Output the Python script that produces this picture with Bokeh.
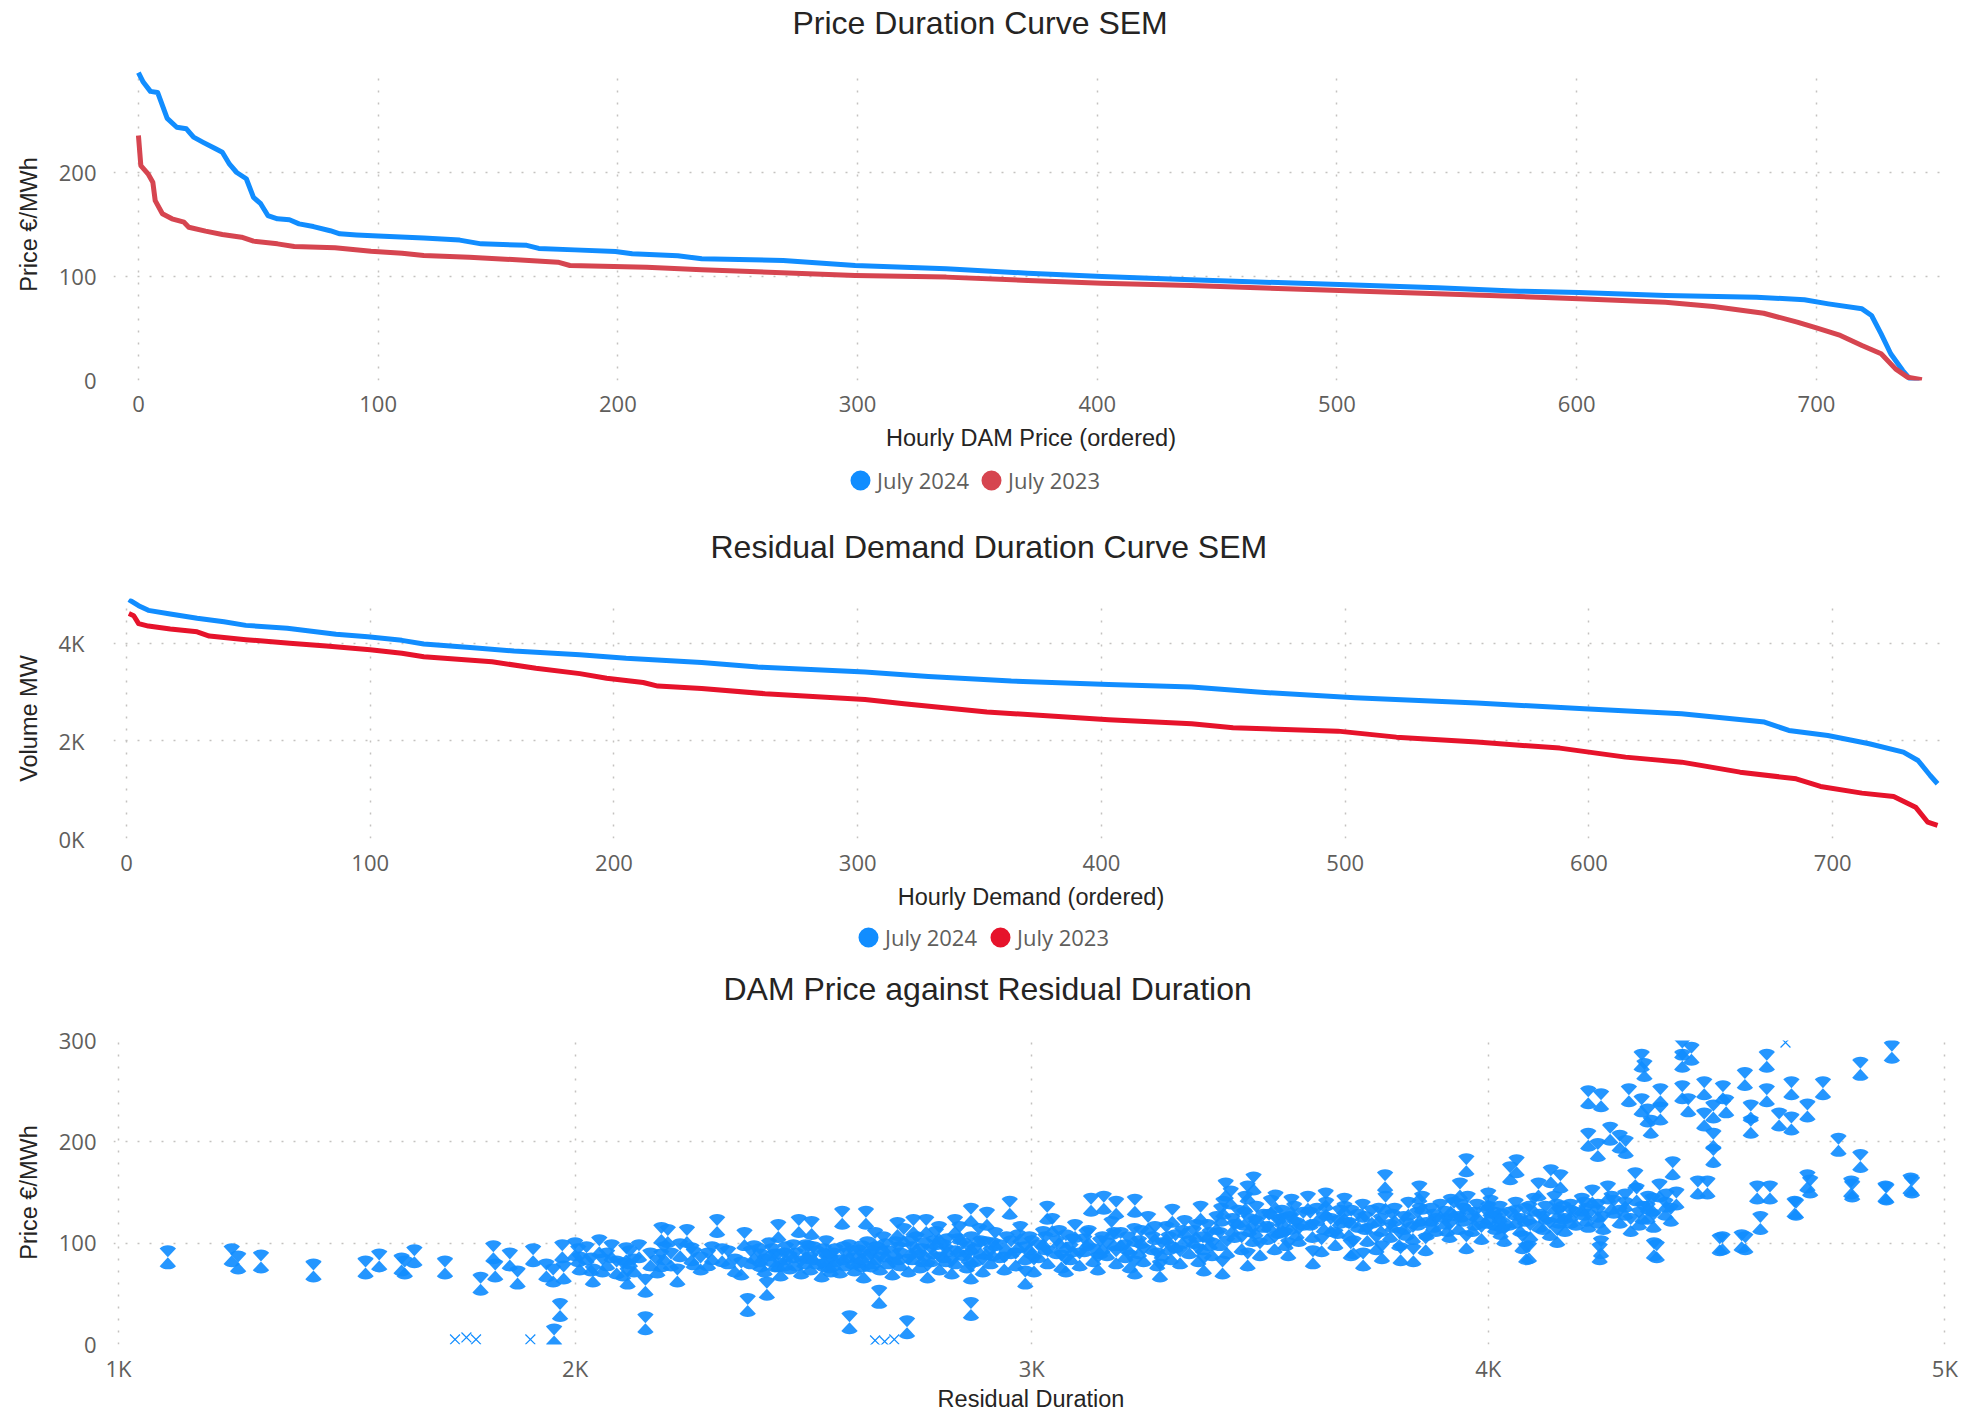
from bokeh.plotting import figure
from bokeh.models import Range1d, Legend, LegendItem, Title, ColumnDataSource, Grid
from bokeh.layouts import column
from bokeh.embed import file_html
from bokeh.resources import INLINE

# ---------------- data ----------------
# Chart 1: Price duration curve (hour rank, EUR/MWh)
price_hours_2024 = [0, 2, 5, 8, 12, 16, 20, 23, 27, 32, 35, 38, 41, 45, 48, 51, 54, 58, 63, 67,
                    73, 80, 84, 91, 100, 119, 134, 143, 162, 167, 182, 199, 206, 225, 235, 269, 299, 337, 371, 402,
                    439, 501, 542, 576, 601, 637, 675, 695, 705, 719, 723, 727, 731, 736, 739, 743]
price_2024 = [296, 287, 278, 277, 252, 243.5, 242, 234, 229, 223, 219.5, 208, 200, 194, 176, 170, 158.6, 155.5, 154.5, 150.6,
              148, 144, 141, 140, 139, 137, 135, 131.4, 130, 127, 125.6, 124, 121.8, 120, 117, 115.4, 110.6, 107.4, 103.2, 100,
              96.8, 92.3, 89.1, 85.9, 84.6, 81.7, 80.1, 77.6, 73.7, 68.9, 62.5, 44.9, 25.7, 9.6, 1.6, 0]
price_hours_2023 = [0, 1, 4, 6, 7, 10, 14, 19, 21, 28, 35, 43, 48, 58, 65, 82, 97, 110, 119, 138,
                    156, 175, 180, 212, 235, 299, 337, 371, 402, 439, 501, 542, 576, 601, 637, 657, 678, 692, 700, 710,
                    719, 727, 733, 738, 744]
price_2023 = [235.6, 206.7, 198.7, 190.7, 173, 160.3, 155.5, 152.2, 147.4, 143.6, 140.4, 137.8, 134, 131.4, 128.8, 127.6, 124.3, 122.4, 120.2, 118.6,
              116.3, 113.8, 110.6, 109, 106.4, 101, 99.4, 96.2, 93.6, 91.3, 86.5, 83.3, 80.8, 78.5, 75.3, 71.2, 64.7, 56.1, 50.5, 43.3,
              33.7, 25.7, 11.2, 3.2, 0.7]

# Chart 2: Residual demand duration curve (hour rank, MW)
demand_hours_2024 = [1, 5, 9, 18, 29, 40, 49, 66, 86, 99, 113, 122, 141, 159, 186, 205, 236, 259, 303, 329,
                     363, 403, 437, 464, 504, 554, 598, 638, 672, 682, 698, 715, 729, 735, 740, 743]
demand_2024 = [4897, 4772, 4677, 4604, 4515, 4443, 4369, 4310, 4187, 4136, 4062, 3988, 3915, 3842, 3768, 3694, 3608, 3514, 3412, 3323,
               3227, 3159, 3104, 3001, 2886, 2776, 2660, 2557, 2386, 2215, 2113, 1942, 1770, 1600, 1292, 1122]
demand_hours_2023 = [1, 3, 5, 9, 18, 29, 34, 49, 67, 82, 100, 113, 122, 150, 168, 186, 197, 212, 218, 236,
                     262, 303, 319, 353, 376, 403, 437, 454, 497, 521, 554, 588, 615, 638, 662, 685, 695, 712, 725, 734,
                     739, 743]
demand_2023 = [4611, 4566, 4406, 4355, 4295, 4238, 4150, 4076, 4002, 3945, 3871, 3797, 3725, 3623, 3489, 3380, 3284, 3197, 3124, 3074,
               2968, 2851, 2763, 2591, 2523, 2435, 2353, 2271, 2201, 2078, 1976, 1853, 1668, 1565, 1360, 1224, 1067, 930, 862, 642,
               334, 267]

# Chart 3: DAM price against residual demand (MW, EUR/MWh)
pts_low = [(1108, 86), (1248, 88), (1262, 81), (1312, 82), (1427, 73), (1541, 76), (1571, 83), (1620, 79), (1627, 76),
           (1648, 87), (1715, 76), (1793, 60), (1821, 91), (1825, 73), (1857, 84), (1874, 66), (1908, 88), (1937, 73),
           (1952, 68), (1975, 71), (1972, 92), (1967, 34), (1954, 9)]
pts_2000 = [(2000, 94), (2007, 88), (2035, 79), (2039, 68), (2053, 97), (2070, 84), (2091, 76), (2112, 89), (2115, 66),
            (2129, 78), (2140, 92), (2154, 58), (2154, 21), (2189, 109), (2203, 107), (2189, 83), (2210, 84), (2224, 68),
            (2245, 107), (2255, 89), (2291, 84), (2311, 117), (2322, 88), (2371, 104), (2364, 75), (2378, 39), (2392, 91),
            (2406, 83), (2420, 55), (2010, 80), (2025, 90), (2060, 78), (2080, 92), (2105, 74), (2120, 86), (2165, 84),
            (2180, 77), (2195, 90), (2230, 93), (2260, 85), (2275, 80), (2300, 90), (2335, 86), (2350, 78), (2385, 86)]
pts_2400 = [(2445, 112), (2445, 83), (2483, 84), (2490, 117), (2518, 115), (2511, 91), (2546, 83), (2560, 78), (2585, 125),
            (2601, 22), (2629, 83), (2637, 125), (2657, 104), (2666, 47), (2727, 17), (2405, 88), (2415, 78), (2425, 94),
            (2438, 83), (2450, 74), (2462, 90), (2470, 81), (2495, 76), (2505, 92), (2515, 80), (2528, 86), (2540, 73),
            (2550, 96), (2558, 82), (2570, 88), (2580, 77), (2592, 84), (2600, 92), (2612, 79), (2620, 87), (2632, 72),
            (2640, 95), (2648, 83)]
pts_2650 = [(2706, 114), (2741, 117), (2769, 117), (2797, 110), (2832, 117), (2867, 128), (2867, 35), (2867, 71), (2902, 124),
            (2660, 90), (2668, 80), (2675, 100), (2685, 86), (2695, 75), (2702, 95), (2712, 84), (2720, 108), (2730, 78),
            (2738, 90), (2748, 100), (2755, 82), (2765, 94), (2772, 72), (2780, 88), (2790, 105), (2798, 80), (2808, 92),
            (2815, 98), (2825, 76), (2833, 86), (2842, 110), (2850, 94), (2858, 82), (2868, 100), (2875, 88), (2885, 108),
            (2893, 78), (2900, 95), (2910, 86), (2920, 104), (2930, 92), (2940, 80)]
pts_2950 = [(2952, 135), (2986, 66), (3034, 130), (3075, 78), (3130, 138), (3158, 140), (3185, 135), (3226, 137), (3226, 76),
            (3281, 73), (3308, 127), (3370, 130), (3377, 79), (3418, 76), (2955, 96), (2965, 84), (2975, 110), (2985, 90),
            (2995, 100), (3005, 78), (3015, 92), (3025, 105), (3035, 86), (3045, 118), (3055, 96), (3065, 82), (3075, 102),
            (3085, 90), (3095, 112), (3105, 84), (3115, 98), (3125, 106), (3135, 88), (3145, 80), (3155, 100), (3165, 94),
            (3175, 115), (3185, 86), (3195, 104), (3205, 92), (3215, 82), (3225, 108), (3235, 96), (3245, 88), (3255, 120),
            (3265, 100), (3275, 84), (3285, 94), (3295, 110), (3305, 90), (3315, 102), (3325, 86), (3335, 116), (3345, 96),
            (3355, 106), (3365, 88), (3375, 100), (3385, 112), (3395, 94)]
pts_3400 = [(3425, 153), (3486, 159), (3473, 150), (3473, 84), (3534, 141), (3541, 117), (3405, 120), (3412, 104),
            (3420, 135), (3428, 96), (3436, 145), (3444, 112), (3452, 126), (3460, 100), (3468, 140), (3476, 118),
            (3484, 108), (3492, 130), (3500, 94), (3508, 122), (3516, 110), (3524, 136), (3532, 100), (3540, 116),
            (3548, 126), (3556, 104)]
pts_3560 = [(3562, 94), (3569, 137), (3616, 86), (3644, 143), (3685, 130), (3699, 94), (3726, 84), (3774, 161), (3767, 91),
            (3808, 89), (3836, 88), (3849, 150), (3863, 99), (3565, 120), (3575, 130), (3585, 108), (3595, 124), (3605, 140),
            (3615, 112), (3625, 128), (3635, 98), (3645, 134), (3655, 118), (3665, 104), (3675, 126), (3685, 138),
            (3695, 114), (3705, 96), (3715, 122), (3725, 132), (3735, 108), (3745, 126), (3755, 100), (3765, 118),
            (3775, 140), (3785, 112), (3795, 128), (3805, 104), (3815, 120), (3825, 134), (3835, 110), (3845, 124),
            (3855, 140), (3865, 114), (3875, 128), (3885, 118), (3895, 132)]
pts_3900 = [(3918, 137), (3938, 153), (3952, 177), (3952, 101), (4000, 143), (4014, 124), (4027, 115), (4048, 169),
            (4062, 176), (4075, 101), (4089, 91), (4110, 153), (4137, 166), (4158, 161), (4151, 107), (4164, 130), (4083, 90),
            (3905, 125), (3915, 112), (3925, 134), (3935, 120), (3945, 128), (3955, 140), (3965, 118), (3975, 132),
            (3985, 110), (3995, 126), (4005, 136), (4015, 120), (4025, 130), (4035, 108), (4045, 124), (4060, 134),
            (4070, 118), (4080, 128), (4092, 112), (4100, 138), (4112, 122), (4125, 130), (4135, 114), (4145, 140),
            (4155, 126), (4168, 118), (4180, 132), (4192, 124)]
pts_4200 = [(4219, 244), (4247, 241), (4219, 202), (4240, 192), (4219, 122), (4247, 96), (4267, 208), (4288, 200), (4301, 195),
            (4308, 246), (4336, 280), (4342, 271), (4336, 236), (4377, 246), (4356, 215), (4349, 226), (4377, 228), (4322, 163),
            (4363, 94), (4349, 130), (4404, 174), (4425, 292), (4425, 280), (4445, 287), (4425, 249), (4438, 236), (4473, 253),
            (4459, 155), (4480, 155), (4473, 222), (4493, 230), (4514, 249), (4521, 235), (4493, 202), (4493, 186), (4507, 99),
            (4555, 102), (4562, 262), (4575, 230), (4575, 215), (4589, 150), (4617, 150), (4596, 120), (4610, 280), (4610, 246),
            (4637, 222), (4664, 253), (4664, 218), (4671, 135), (4699, 231), (4705, 156), (4699, 161), (4733, 253), (4767, 197),
            (4795, 155), (4815, 181), (4815, 272), (4870, 150), (4884, 289), (4925, 158), (4244, 90), (4369, 92), (4513, 100),
            (4563, 100), (4674, 134), (4797, 152), (4872, 149), (4928, 156), (4205, 138), (4215, 128), (4228, 146), (4240, 132),
            (4252, 120), (4262, 150), (4275, 136), (4288, 126), (4300, 142), (4312, 118), (4325, 148), (4338, 130), (4350, 140),
            (4362, 122), (4375, 152), (4388, 134), (4400, 128), (4412, 144)]
pts_dense = [(2432, 88), (2458, 84), (2478, 92), (2502, 86), (2522, 90), (2545, 88), (2565, 84), (2588, 90), (2608, 86),
             (2628, 91), (2652, 86), (2680, 93), (2708, 90), (2735, 96), (2760, 88), (2785, 96), (2812, 88), (2838, 98),
             (2862, 90), (2888, 96), (2915, 94), (2945, 100), (2970, 102), (3000, 96), (3030, 100), (3060, 106), (3090, 98),
             (3120, 104), (3150, 96), (3180, 104), (3210, 100), (3240, 106), (3270, 110), (3300, 100), (3330, 106),
             (3360, 112), (3390, 104), (3415, 128), (3440, 118), (3465, 124), (3490, 116), (3520, 122), (3550, 118),
             (3580, 114), (3610, 124), (3640, 120), (3670, 116), (3700, 126), (3730, 120), (3760, 128), (3790, 122),
             (3820, 114), (3850, 128), (3880, 122), (3910, 118), (3940, 132), (3970, 124), (4000, 130), (4030, 122),
             (4060, 126), (4090, 130), (4120, 120), (4150, 132), (4180, 126), (4210, 134), (4240, 126), (4270, 140),
             (4300, 134), (4330, 124), (4360, 138), (4390, 142)]
pts_edge = [(1737, 5), (1762, 7), (1783, 5), (1902, 5), (2657, 4), (2678, 3), (2699, 5), (4651, 298)]

all_pts = pts_low + pts_2000 + pts_2400 + pts_2650 + pts_2950 + pts_3400 + pts_3560 + pts_3900 + pts_4200 + pts_dense
residual_mw = [p[0] for p in all_pts]
dam_price = [p[1] for p in all_pts]
edge_mw = [p[0] for p in pts_edge]
edge_price = [p[1] for p in pts_edge]

series_labels = ["July 2024", "July 2023"]

BLUE = "#118DFF"
RED1 = "#D64550"
RED2 = "#E6132B"
GRID = "#c4c2c0"
TICK = "#605E5C"
DARK = "#252423"
W = 1980
BL = 113
BR = W - 1948
NAN = float("nan")


def make_fig(h, xr, yr, bt, bb):
    p = figure(width=W, height=h, x_range=Range1d(*xr), y_range=Range1d(*yr),
               output_backend="svg", toolbar_location=None, title=None,
               min_border_left=BL, min_border_right=BR, min_border_top=bt, min_border_bottom=bb)
    p.outline_line_color = None
    p.background_fill_color = "white"
    p.border_fill_color = "white"
    for ax in (p.xaxis[0], p.yaxis[0]):
        ax.axis_line_color = None
        ax.major_tick_line_color = None
        ax.minor_tick_line_color = None
        ax.major_tick_out = 0
        ax.major_tick_in = 0
        ax.major_label_text_font = "Open Sans"
        ax.major_label_text_font_size = "22px"
        ax.major_label_text_color = TICK
        ax.axis_label_text_font = "Liberation Sans"
        ax.axis_label_text_font_size = "23.5px"
        ax.axis_label_text_font_style = "normal"
        ax.axis_label_text_color = DARK
    for g in (p.xgrid[0], p.ygrid[0]):
        g.grid_line_color = GRID
        g.grid_line_dash = "2 10"
        g.grid_line_width = 1.5
    return p


def add_title(p, text, offset, gap):
    # an empty spacer title sits next to the frame, the real title above it
    p.add_layout(Title(text=" ", text_font_size="10px", standoff=gap), "above")
    p.add_layout(Title(text=text, align="left", offset=offset, standoff=0,
                       text_font="Liberation Sans", text_font_size="32px",
                       text_font_style="normal", text_color=DARK), "above")


def legend_fig(h, colors, vx, vy, sp):
    p = figure(width=W, height=h, x_range=Range1d(0, 1), y_range=Range1d(0, 1),
               output_backend="svg", toolbar_location=None, title=None,
               x_axis_location=None, y_axis_location=None,
               min_border_left=BL, min_border_right=BR, min_border_top=0, min_border_bottom=0)
    p.outline_line_color = None
    p.background_fill_color = "white"
    p.border_fill_color = "white"
    for r in p.center:
        if isinstance(r, Grid):
            r.visible = False
    items = []
    for lab, col in zip(series_labels, colors):
        # legend swatch only: the single point is NaN, so nothing is drawn in the plot area
        r = p.scatter(x=[NAN], y=[NAN], marker="circle", fill_color=col, line_color=col, line_width=6.4)
        items.append(LegendItem(label=lab, renderers=[r]))
    leg = Legend(items=items, location=(vx, vy), orientation="horizontal",
                 glyph_width=34, glyph_height=50, label_standoff=0, spacing=sp,
                 padding=0, margin=0, border_line_color=None, background_fill_alpha=0,
                 label_text_font="Open Sans", label_text_font_size="22px", label_text_color=TICK)
    p.add_layout(leg)
    return p


# ---------------- chart 1 ----------------
p1 = make_fig(455, (-10.4, 755.1), (0, 300), 68, 75)
p1.xaxis.ticker = [0, 100, 200, 300, 400, 500, 600, 700]
p1.yaxis.ticker = [0, 100, 200]
p1.xaxis.axis_label = "Hourly DAM Price (ordered)"
p1.yaxis.axis_label = "Price €/MWh"
p1.xaxis.major_label_standoff = 15
p1.xaxis.axis_label_standoff = 10
p1.yaxis.major_label_standoff = 17
p1.yaxis.axis_label_standoff = 14
p1.line(price_hours_2024, price_2024, line_width=5, color=BLUE, line_join="round")
p1.line(price_hours_2023, price_2023, line_width=5, color=RED1, line_join="round")
add_title(p1, "Price Duration Curve SEM", 679, 15)
leg1 = legend_fig(58, [BLUE, RED1], 730, 8, 5)

# ---------------- chart 2 ----------------
p2 = make_fig(399, (-5.3, 747.5), (0, 4920), 85, 74)
p2.xaxis.ticker = [0, 100, 200, 300, 400, 500, 600, 700]
p2.yaxis.ticker = [0, 2000, 4000]
p2.yaxis.major_label_overrides = {0: "0K", 2000: "2K", 4000: "4K"}
p2.xaxis.axis_label = "Hourly Demand (ordered)"
p2.yaxis.axis_label = "Volume MW"
p2.xaxis.major_label_standoff = 16
p2.xaxis.axis_label_standoff = 10
p2.yaxis.major_label_standoff = 29
p2.yaxis.axis_label_standoff = 13
p2.line(demand_hours_2024, demand_2024, line_width=5, color=BLUE, line_join="round")
p2.line(demand_hours_2023, demand_2023, line_width=5, color=RED2, line_join="round")
add_title(p2, "Residual Demand Duration Curve SEM", 597, 21)
leg2 = legend_fig(54, [BLUE, RED2], 738, 4, 6)

# ---------------- chart 3 ----------------
p3 = make_fig(448, (989, 5008), (0, 300), 74, 70)
p3.xaxis.ticker = [1000, 2000, 3000, 4000, 5000]
p3.xaxis.major_label_overrides = {1000: "1K", 2000: "2K", 3000: "3K", 4000: "4K", 5000: "5K"}
p3.yaxis.ticker = [0, 100, 200, 300]
p3.xaxis.axis_label = "Residual Duration"
p3.yaxis.axis_label = "Price €/MWh"
p3.xaxis.major_label_standoff = 8
p3.xaxis.axis_label_standoff = 0
p3.yaxis.major_label_standoff = 17
p3.yaxis.axis_label_standoff = 14
src = ColumnDataSource(dict(x=residual_mw, y=dam_price))
for a0, a1 in ((47, 133), (227, 313)):
    p3.wedge(x="x", y="y", radius=12, radius_units="screen", start_angle=a0, end_angle=a1,
             start_angle_units="deg", end_angle_units="deg", fill_color=BLUE, fill_alpha=0.92,
             line_color=None, source=src)
p3.scatter(edge_mw, edge_price, marker="x", size=14, line_color=BLUE, line_width=1.2)
add_title(p3, "DAM Price against Residual Duration", 610, 21)

layout = column(p1, leg1, p2, leg2, p3, spacing=0)
open("out.html", "w").write(file_html(layout, INLINE))
